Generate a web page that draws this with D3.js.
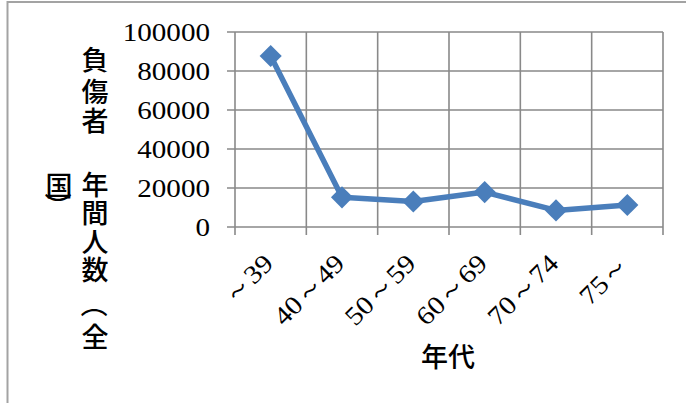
<!DOCTYPE html>
<html>
<head>
<meta charset="utf-8">
<script src="https://cdn.jsdelivr.net/npm/d3@7"></script>
<style>
  body { margin: 0; background: #fff; }
  svg { display: block; }
</style>
</head>
<body>
<script>
const width = 686;
const height = 403;

// data
const categories = ['～39', '40～49', '50～59', '60～69', '70～74', '75～'];
const injured = [87700, 15200, 13100, 17900, 8500, 11300];
const yTicks = [0, 20000, 40000, 60000, 80000, 100000];
const yTitleCol1 = ['負', '傷', '者', '年', '間', '人', '数', '（', '全'];
const yTitleCol2 = ['国', '）'];

const plot = { left: 235, right: 663, top: 32, bottom: 227 };
const numFont = '"Liberation Serif", "Times New Roman", serif';
const jpFont = '"Noto Sans CJK JP", sans-serif';

const svg = d3.select('body')
    .append('svg')
    .attr('width', width)
    .attr('height', height);

// chart area border (cut off at right/bottom)
svg.append('rect')
    .attr('x', 7.5)
    .attr('y', 2)
    .attr('width', 720)
    .attr('height', 440)
    .style('fill', '#fff')
    .style('stroke', '#a3a3a3')
    .style('stroke-width', 2);

const x = d3.scaleBand()
    .domain(categories)
    .range([plot.left, plot.right]);

const y = d3.scaleLinear()
    .domain([0, 100000])
    .range([plot.bottom, plot.top]);

const gridColor = '#898989';

// horizontal grid + y ticks
svg.append('g')
    .selectAll('line')
    .data(yTicks)
    .enter().append('line')
    .attr('x1', plot.left - 8)
    .attr('x2', plot.right)
    .attr('y1', d => y(d))
    .attr('y2', d => y(d))
    .style('stroke', gridColor)
    .style('stroke-width', 1.6);

// vertical grid + x ticks at band edges
const edges = categories.map(c => x(c)).concat([x.range()[1]]);
svg.append('g')
    .selectAll('line')
    .data(edges)
    .enter().append('line')
    .attr('x1', d => d)
    .attr('x2', d => d)
    .attr('y1', plot.top)
    .attr('y2', plot.bottom + 8)
    .style('stroke', gridColor)
    .style('stroke-width', 1.6);

// y tick labels (stretched a bit, the original font is wider)
svg.append('g')
    .selectAll('text')
    .data(yTicks)
    .enter().append('text')
    .attr('transform', d => `translate(210,${y(d)}) scale(1.12,1)`)
    .attr('dy', '0.34em')
    .attr('text-anchor', 'end')
    .style('font-family', numFont)
    .style('font-size', '26px')
    .style('fill', '#000')
    .text(d => d);

// x tick labels, rotated
svg.append('g')
    .selectAll('text')
    .data(categories)
    .enter().append('text')
    .attr('transform', d => `translate(${x(d) + x.bandwidth() / 2 + 4},265) rotate(-45) scale(1.12,1)`)
    .attr('text-anchor', 'end')
    .style('font-family', numFont)
    .style('font-size', '26px')
    .style('fill', '#000')
    .text(d => d);

// series line
const cx = d => x(d) + x.bandwidth() / 2;
const line = d3.line()
    .x((d, i) => cx(categories[i]))
    .y(d => y(d));

svg.append('path')
    .datum(injured)
    .attr('d', line)
    .style('fill', 'none')
    .style('stroke', '#4a7ebb')
    .style('stroke-width', 5.5)
    .style('stroke-linejoin', 'round');

svg.append('g')
    .selectAll('path')
    .data(injured)
    .enter().append('path')
    .attr('d', d3.symbol().type(d3.symbolSquare).size(245))
    .attr('transform', (d, i) => `translate(${cx(categories[i])},${y(d)}) rotate(45)`)
    .style('fill', '#4a7ebb');

// axis titles
svg.append('text')
    .attr('x', 448)
    .attr('y', 355)
    .attr('dominant-baseline', 'central')
    .attr('text-anchor', 'middle')
    .style('font-family', jpFont)
    .style('font-size', '27px')
    .style('font-weight', 500)
    .text('年代');

// stacked (vertical) y title, brackets turned to their vertical form
const col1Y = [58, 90, 119, 183, 211, 240, 268, 304, 335];
const col2Y = [184, 206];

function verticalColumn(chars, colX, ys) {
    svg.append('g')
        .selectAll('text')
        .data(chars)
        .enter().append('text')
        .attr('transform', (d, i) => `translate(${colX},${ys[i]})` + ('（）'.includes(d) ? ' rotate(90)' : ''))
        .attr('dominant-baseline', 'central')
        .attr('text-anchor', 'middle')
        .style('font-family', jpFont)
        .style('font-size', '27px')
        .style('font-weight', 500)
        .text(d => d);
}

verticalColumn(yTitleCol1, 95, col1Y);
verticalColumn(yTitleCol2, 59, col2Y);
</script>
</body>
</html>
